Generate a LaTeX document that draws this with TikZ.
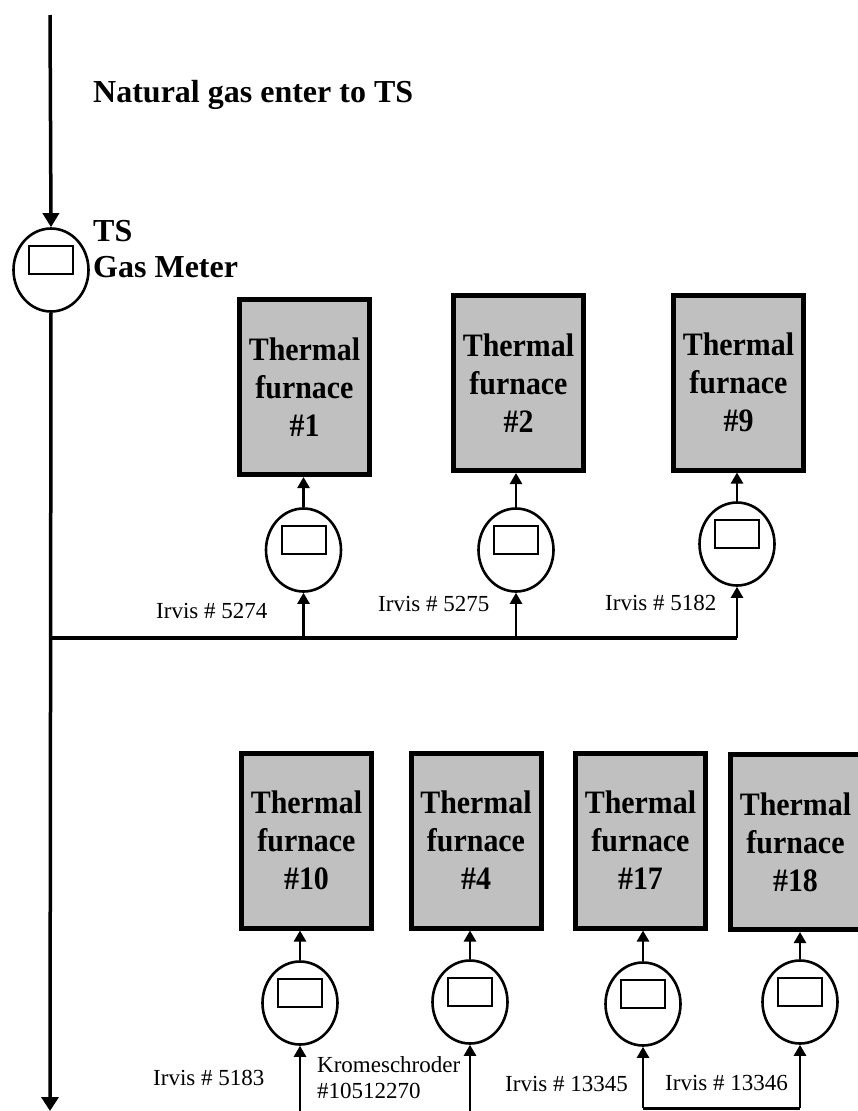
\documentclass[tikz,border=0pt]{standalone}
\usepackage{fontspec}
\setmainfont{Liberation Serif}
\newfontfamily\hornofont[FakeStretch=0.915]{Liberation Serif}
\usetikzlibrary{arrows.meta,shapes.geometric}

\definecolor{hornogris}{HTML}{C0C0C0}

\tikzset{
  horno/.style={draw,line width=5pt,fill=hornogris,minimum width=130pt,minimum height=175pt,
    inner sep=0pt,align=center,font=\hornofont\fontsize{32.7}{38}\selectfont\bfseries},
  medidor/.style={ellipse,draw,line width=2.6pt,minimum width=75pt,minimum height=83pt,inner sep=0pt,
    path picture={\draw[line width=2pt] ([shift={(-22pt,-3.5pt)}]path picture bounding box.center) rectangle ++(44pt,28pt);}},
  tubo/.style={line width=3.5pt},
  flujo/.style={line width=2.5pt,-{Triangle[length=11pt,width=12pt]}},
  rotulo/.style={font=\fontsize{32}{36}\selectfont\bfseries,inner sep=0pt,anchor=base west},
  irvis/.style={font=\fontsize{23}{26}\selectfont,inner sep=0pt,anchor=base west}
}

\begin{document}
\begin{tikzpicture}[x=1pt,y=-1pt]
        \useasboundingbox (0,0) rectangle (857,1111);

		%linea principal
		\coordinate (entrada) at (50,15);
		\coordinate (salida) at (50,1111);
		\node[medidor] (ts) at (51,270) {};
		\draw[tubo,-{Triangle[length=14pt,width=16pt]}] (entrada) -- (ts.north);
		\draw[tubo,-{Triangle[length=14pt,width=17pt]}] (ts.south) -- (salida);

		\node[rotulo] (gas) at (93,102) {Natural gas enter to TS};
		\node[rotulo] (tsname) at (93,241) {TS};
		\node[rotulo] (tsmeter) at (93,277) {Gas Meter};

		%hornos fila 1
		\node[horno] (h1) at (304.5,387) {Thermal\\furnace\\\#1};
		\node[horno] (h2) at (518.5,383) {Thermal\\furnace\\\#2};
		\node[horno] (h9) at (738.5,382.5) {Thermal\\furnace\\\#9};

		\node[medidor] (m1) at (303.5,550) {};
		\node[medidor] (m2) at (516,550) {};
		\node[medidor] (m9) at (737,544) {};

		\coordinate (ramal1) at (50,638);
		\draw[tubo] (ramal1) -- (ramal1 -| m9);
		\foreach \m/\h in {m1/h1,m2/h2,m9/h9}{
		  \draw[flujo] (ramal1 -| \m) -- (\m.south);
		  \draw[flujo] (\m.north) -- (\m |- \h.south);
		}

		\node[irvis] (i5274) at (156,618) {Irvis \# 5274};
		\node[irvis] (i5275) at (378,611) {Irvis \# 5275};
		\node[irvis] (i5182) at (605,610) {Irvis \# 5182};

		%hornos fila 2
		\node[horno] (h10) at (306.5,840.5) {Thermal\\furnace\\\#10};
		\node[horno] (h4) at (476,840.5) {Thermal\\furnace\\\#4};
		\node[horno] (h17) at (640.5,840.5) {Thermal\\furnace\\\#17};
		\node[horno] (h18) at (795.5,842) {Thermal\\furnace\\\#18};

		\node[medidor] (m10) at (300,1003) {};
		\node[medidor] (m4) at (470,1002) {};
		\node[medidor] (m17) at (643,1004) {};
		\node[medidor] (m18) at (800,1002) {};

		\coordinate (ramal2) at (643,1108);
		\draw[line width=3pt] (ramal2) -- (ramal2 -| m18);
		\draw[flujo] (m10 |- salida) -- (m10.south);
		\draw[flujo] (m4 |- salida) -- (m4.south);
		\draw[flujo] (ramal2) -- (m17.south);
		\draw[flujo] (ramal2 -| m18) -- (m18.south);
		\foreach \m/\h in {m10/h10,m4/h4,m17/h17,m18/h18}{
		  \draw[flujo] (\m.north) -- (\m |- \h.south);
		}

		\node[irvis] (i5183) at (153,1085) {Irvis \# 5183};
		\node[irvis] (kromes) at (317,1072) {Kromeschroder};
		\node[irvis] (k105) at (317,1098) {\#10512270};
		\node[irvis] (i13345) at (505,1091) {Irvis \# 13345};
		\node[irvis] (i13346) at (665,1090) {Irvis \# 13346};

	\end{tikzpicture}
\end{document}
